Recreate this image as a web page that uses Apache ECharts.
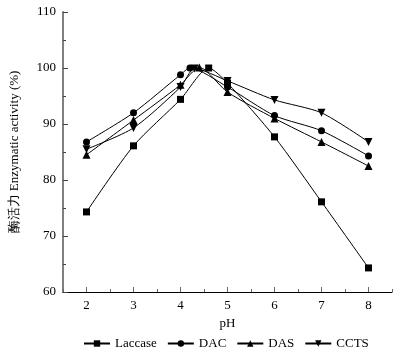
<!DOCTYPE html>
<html>
<head>
<meta charset="utf-8">
<script src="https://cdn.jsdelivr.net/npm/echarts@6/dist/echarts.min.js"></script>
<style>
  html, body { margin: 0; padding: 0; background: #fff; }
  #chart { width: 401px; height: 354px; }
</style>
</head>
<body>
<div id="chart"></div>
<script>
// pH values and activity (%)
var laccasePH = [2, 3, 4, 4.6, 5, 6, 7, 8];
var laccase = [74.3, 86.1, 94.4, 100.0, 97.3, 87.7, 76.1, 64.3];

var dacPH = [2, 3, 4, 4.2, 5, 6, 7, 8];
var dac = [86.8, 92.0, 98.8, 100.0, 96.6, 91.5, 88.8, 84.3];

var dasPH = [2, 3, 4, 4.4, 5, 6, 7, 8];
var das = [84.5, 90.7, 97.0, 100.1, 95.7, 91.0, 86.8, 82.5];

var cctsPH = [2, 3, 4, 4.3, 5, 6, 7, 8];
var ccts = [85.5, 89.3, 96.6, 99.9, 97.7, 94.3, 92.0, 86.8];

var xLabels = [2, 3, 4, 5, 6, 7, 8];
var xMinor = [1.5, 2.5, 3.5, 4.5, 5.5, 6.5, 7.5, 8.5];

function pairs(xs, ys) {
  return xs.map(function (x, i) { return [x, ys[i]]; });
}

var font = 'Liberation Serif';

function makeSeries(name, xs, ys, symbol, size, rotate) {
  return {
    name: name,
    type: 'line',
    data: pairs(xs, ys),
    smooth: 0.25,
    symbol: symbol,
    symbolSize: size,
    symbolRotate: rotate || 0,
    lineStyle: { color: '#000', width: 1 },
    itemStyle: { color: '#000' },
    emphasis: { disabled: true }
  };
}

var chart = echarts.init(document.getElementById('chart'));
chart.setOption({
  animation: false,
  textStyle: { fontFamily: font },
  grid: { left: 60, right: 9, top: 12, bottom: 62 },
  legend: {
    left: 83,
    bottom: 4,
    padding: 0,
    itemWidth: 26,
    itemHeight: 8,
    itemGap: 10,
    textStyle: { fontFamily: font, fontSize: 13, color: '#000' },
    data: ['Laccase', 'DAC', 'DAS', 'CCTS']
  },
  xAxis: [{
    type: 'value',
    min: 1.5,
    max: 8.5,
    name: 'pH',
    nameLocation: 'middle',
    nameGap: 24,
    nameTextStyle: { fontFamily: font, fontSize: 13, color: '#000' },
    splitLine: { show: false },
    axisLine: { lineStyle: { color: '#000', width: 1 } },
    axisTick: { inside: true, length: 5, lineStyle: { color: '#666' }, customValues: xLabels },
    axisLabel: { fontFamily: font, fontSize: 13, color: '#000', margin: 7, customValues: xLabels }
  }, {
    type: 'value',
    position: 'bottom',
    min: 1.5,
    max: 8.5,
    splitLine: { show: false },
    axisLine: { show: false },
    axisTick: { inside: true, length: 3, lineStyle: { color: '#666' }, customValues: xMinor },
    axisLabel: { show: false }
  }],
  yAxis: {
    type: 'value',
    min: 60,
    max: 110,
    interval: 10,
    name: '酶活力 Enzymatic activity (%)',
    nameLocation: 'middle',
    nameGap: 42,
    nameTextStyle: { fontFamily: font, fontSize: 13, color: '#000' },
    splitLine: { show: false },
    axisLine: { lineStyle: { color: '#808080', width: 2 } },
    axisTick: { inside: true, length: 5, lineStyle: { color: '#444' } },
    minorTick: { show: true, splitNumber: 2, length: 3, lineStyle: { color: '#444' } },
    axisLabel: { fontFamily: font, fontSize: 13, color: '#000', margin: 7 }
  },
  series: [
    makeSeries('Laccase', laccasePH, laccase, 'rect', 7),
    makeSeries('DAC', dacPH, dac, 'circle', 7),
    makeSeries('DAS', dasPH, das, 'triangle', 8),
    makeSeries('CCTS', cctsPH, ccts, 'triangle', 8, 180)
  ]
});
</script>
</body>
</html>
